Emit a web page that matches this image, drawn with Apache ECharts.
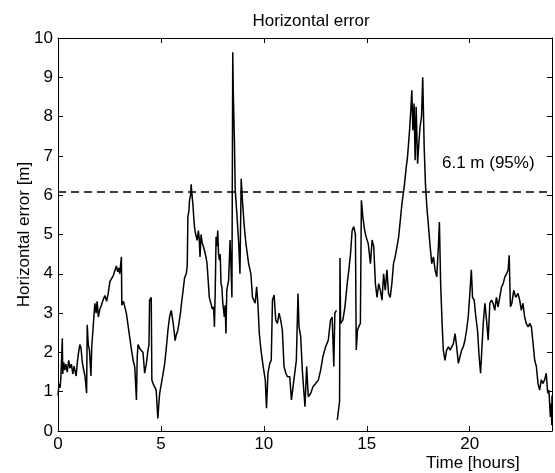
<!DOCTYPE html>
<html>
<head>
<meta charset="utf-8">
<script src="https://cdn.jsdelivr.net/npm/echarts@6/dist/echarts.min.js"></script>
<style>
  html, body { margin: 0; padding: 0; background: #fff; }
  #chart { width: 555px; height: 473px; }
</style>
</head>
<body>
<div id="chart"></div>
<script>
// time of day in hours
const hours = [
  0.00, 0.02, 0.06, 0.10, 0.14, 0.18, 0.21, 0.23, 0.28, 0.33, 0.38, 0.45, 0.52, 0.58, 0.65, 0.72, 0.78, 0.82, 0.88, 0.94,
  1.00, 1.06, 1.12, 1.18, 1.23, 1.31, 1.39, 1.42, 1.47, 1.53, 1.60, 1.64, 1.71, 1.79, 1.85, 1.90, 1.96,
  2.03, 2.11, 2.20, 2.28, 2.36, 2.44, 2.52, 2.60, 2.68, 2.76, 2.84, 2.90, 2.96,
  3.00, 3.08, 3.10, 3.13, 3.18, 3.24, 3.32, 3.40, 3.48, 3.56, 3.65, 3.73, 3.81, 3.85, 3.89, 3.97,
  4.05, 4.13, 4.21, 4.29, 4.37, 4.42, 4.45, 4.53, 4.56, 4.62, 4.69, 4.77, 4.85, 4.90, 4.94,
  5.02, 5.10, 5.18, 5.26, 5.34, 5.42, 5.50, 5.58, 5.64, 5.69, 5.75, 5.82, 5.88, 5.95,
  6.00, 6.06, 6.15, 6.23, 6.28, 6.31, 6.36, 6.39, 6.44, 6.47, 6.51, 6.55, 6.60, 6.63, 6.67, 6.71, 6.76, 6.82, 6.86, 6.90, 6.95,
  7.00, 7.03, 7.09, 7.15, 7.20, 7.24, 7.30, 7.35, 7.40, 7.44, 7.50, 7.56, 7.60, 7.64, 7.68, 7.72, 7.76, 7.80, 7.84, 7.88, 7.92, 7.96,
  8.00, 8.04, 8.08, 8.12, 8.16, 8.20, 8.29, 8.36, 8.40, 8.45, 8.49, 8.52, 8.57, 8.61, 8.68, 8.78, 8.84, 8.90, 8.97,
  9.05, 9.13, 9.26, 9.37, 9.45, 9.58, 9.65, 9.71, 9.78, 9.86, 9.97,
  10.07, 10.13, 10.20, 10.29, 10.36, 10.42, 10.50, 10.58, 10.66, 10.74, 10.82, 10.90, 10.98,
  11.07, 11.15, 11.26, 11.34, 11.42, 11.52, 11.58, 11.66, 11.71, 11.79, 11.87, 11.95,
  12.00, 12.08, 12.16, 12.28, 12.39, 12.52, 12.65, 12.76, 12.87,
  13.00, 13.13, 13.24, 13.32, 13.40, 13.45, 13.53, 13.55, 13.57, 13.62, 13.68, 13.70, 13.73, 13.84, 13.94,
  14.05, 14.13, 14.21, 14.29, 14.37, 14.45, 14.49, 14.55, 14.61, 14.69, 14.74, 14.81, 14.90, 14.97,
  15.07, 15.18, 15.26, 15.34, 15.42, 15.50, 15.58, 15.66, 15.74, 15.82, 15.90, 15.98,
  16.06, 16.14, 16.22, 16.30, 16.38, 16.47, 16.55, 16.63, 16.71, 16.82, 16.92, 16.98,
  17.08, 17.14, 17.19, 17.24, 17.30, 17.35, 17.40, 17.47, 17.53, 17.59, 17.66, 17.72, 17.79, 17.85, 17.92,
  18.00, 18.08, 18.16, 18.24, 18.32, 18.40, 18.48, 18.53, 18.59, 18.66, 18.72, 18.80, 18.88, 18.97,
  19.05, 19.13, 19.21, 19.29, 19.37, 19.45, 19.53, 19.61, 19.69, 19.77, 19.85, 19.93,
  20.01, 20.08, 20.14, 20.22, 20.30, 20.38, 20.46, 20.53, 20.59, 20.66, 20.74, 20.82, 20.90, 20.98,
  21.06, 21.14, 21.22, 21.30, 21.38, 21.46, 21.55, 21.63, 21.71, 21.79, 21.87, 21.92, 21.98,
  22.05, 22.14, 22.24, 22.35, 22.43, 22.51, 22.59, 22.67, 22.75, 22.84, 22.92,
  23.00, 23.08, 23.16, 23.24, 23.32, 23.40, 23.48, 23.56, 23.64, 23.72, 23.79, 23.85, 23.92, 23.96, 23.99, 24.00
]

// horizontal error in metres (null = gap in the record)
const errors = [
  0.90, 1.04, 1.20, 1.10, 1.35, 1.30, 2.36, 1.45, 1.75, 1.55, 1.70, 1.50, 1.80, 1.60, 1.70, 1.45, 1.65, 1.60, 1.40, 1.75,
  2.00, 2.20, 2.10, 1.75, 1.60, 1.40, 0.96, 2.70, 2.20, 2.05, 1.40, 2.15, 2.10, 3.25, 3.00, 3.30, 2.90,
  3.10, 3.20, 3.35, 3.45, 3.30, 3.50, 3.80, 3.75, 3.95, 3.90, 4.20, 4.05, 4.15,
  4.00, 4.43, 3.20, 3.16, 3.30, 3.25, 3.00, 2.70, 2.40, 2.10, 1.80, 1.63, 0.79, 1.90, 2.20, 2.10,
  2.05, 2.00, 1.47, 1.70, 2.05, 2.20, 3.33, 3.40, 1.30, 1.20, 1.13, 1.04, 0.32, 0.70, 0.96,
  1.20, 1.45, 1.70, 2.10, 2.56, 2.90, 3.07, 2.80, 2.55, 2.30, 2.45, 2.56, 2.75, 3.00,
  3.25, 3.50, 3.90, 4.00, 4.20, 5.45, 5.60, 5.87, 6.00, 6.28, 6.00, 5.80, 5.40, 5.20, 5.05, 5.00, 4.85, 5.10, 4.90, 4.43, 5.00,
  4.80, 4.77, 4.65, 4.70, 4.40, 4.26, 3.80, 3.40, 3.30, 3.25, 3.10, 3.16, 2.65, 3.60, 4.94, 4.70, 5.10, 4.50, 4.35, 4.50, 3.75, 3.67,
  3.30, 3.10, 2.90, 3.20, 2.48, 3.58, 3.84, 4.86, 4.26, 3.40, 9.64, 8.50, 7.40, 6.13, 5.60, 4.77, 4.00, 6.42, 5.79,
  5.20, 4.77, 4.26, 4.00, 3.40, 3.25, 3.67, 3.25, 2.48, 2.06, 1.64,
  1.30, 0.58, 1.47, 1.72, 1.80, 3.33, 3.46, 2.82, 2.74, 3.00, 2.82, 2.57, 1.64,
  1.47, 1.38, 1.38, 0.79, 1.13, 1.55, 1.80, 3.50, 2.65, 2.40, 1.55, 0.96,
  0.62, 1.64, 0.87, 0.96, 1.13, 1.21, 1.30, 1.55, 1.89,
  2.14, 2.31, 2.82, 2.90, 1.64, 3.00, 3.07, null, 0.28, 0.50, 0.75, 4.40, 2.74, 2.82, 3.16,
  3.75, 4.10, 4.50, 5.10, 5.20, 5.00, 2.06, 2.57, 2.65, 2.74, 5.87, 5.45, 5.10, 4.94,
  4.77, 4.26, 4.86, 4.69, 3.75, 3.40, 3.75, 3.58, 3.33, 4.00, 3.58, 4.10,
  3.50, 3.40, 3.75, 4.26, 4.43, 4.69, 4.94, 5.36, 5.79, 6.21, 6.72, 6.97,
  7.65, 8.16, 8.67, 7.65, 8.33, 6.89, 8.25, 6.80, 7.31, 7.74, 7.99, 9.00, 7.23, 6.30, 5.70,
  5.20, 4.69, 4.26, 4.43, 4.10, 3.92, 4.69, 5.32, 3.75, 2.74, 2.06, 1.80, 2.06, 2.14,
  2.06, 2.14, 2.23, 2.48, 2.14, 1.72, 1.89, 2.06, 2.14, 2.31, 2.57, 2.90,
  3.50, 4.10, 3.40, 3.33, 2.90, 2.57, 1.89, 1.47, 2.06, 2.74, 3.25, 2.82, 2.31, 3.25,
  3.33, 3.25, 3.07, 3.40, 3.16, 3.40, 3.67, 3.75, 3.92, 4.00, 4.10, 4.47, 3.16,
  3.25, 3.58, 3.40, 3.50, 3.33, 3.07, 3.25, 2.90, 2.74, 2.65, 2.74,
  2.65, 2.23, 1.80, 1.64, 1.21, 1.04, 1.30, 1.21, 1.30, 1.47, 0.96, 1.04, 0.36, 0.70, 0.15, 0.90
]

const xTicks = [0, 5, 10, 15, 20]
const yTicks = [0, 1, 2, 3, 4, 5, 6, 7, 8, 9, 10]
const level95 = 6.1
const level95Label = '6.1 m (95%)'

const font = 'Liberation Sans, Arial, Helvetica, sans-serif'
const chart = echarts.init(document.getElementById('chart'), null, { renderer: 'canvas' })

const axisBase = {
  type: 'value',
  axisLine: { show: true, onZero: false, lineStyle: { color: '#000', width: 1 } },
  axisTick: { show: true, inside: true, length: 5, lineStyle: { color: '#000' } },
  splitLine: { show: false }
}

chart.setOption({
  animation: false,
  backgroundColor: '#fff',
  textStyle: { fontFamily: font },
  title: {
    text: 'Horizontal error',
    left: 306,
    top: 8,
    textAlign: 'center',
    textStyle: { fontFamily: font, fontSize: 17, fontWeight: 'normal', color: '#000' }
  },
  grid: { left: 58, right: 1, top: 38, bottom: 42 },
  xAxis: [
    Object.assign({}, axisBase, {
      position: 'bottom',
      min: 0,
      max: 24,
      interval: 5,
      axisLabel: {
        margin: 5,
        fontSize: 17,
        color: '#000',
        fontFamily: font,
        formatter: v => (xTicks.includes(v) ? String(v) : '')
      }
    }),
    Object.assign({}, axisBase, {
      position: 'top',
      min: 0,
      max: 24,
      interval: 5,
      axisLabel: { show: false }
    })
  ],
  yAxis: [
    Object.assign({}, axisBase, {
      position: 'left',
      min: 0,
      max: 10,
      interval: 1,
      name: 'Horizontal error [m]',
      nameLocation: 'middle',
      nameGap: 25,
      nameMoveOverlap: false,
      nameTextStyle: { fontSize: 17, color: '#000', fontFamily: font },
      axisLabel: {
        margin: 5,
        fontSize: 17,
        color: '#000',
        fontFamily: font,
        formatter: v => (yTicks.includes(v) ? String(v) : '')
      }
    }),
    Object.assign({}, axisBase, {
      position: 'right',
      min: 0,
      max: 10,
      interval: 1,
      axisLabel: { show: false }
    })
  ],
  graphic: [
    {
      type: 'text',
      left: 442,
      top: 155,
      style: { text: level95Label, fontSize: 17, fontFamily: font, fill: '#000' }
    },
    {
      type: 'text',
      left: 426,
      top: 455,
      style: { text: 'Time [hours]', fontSize: 17, fontFamily: font, fill: '#000' }
    }
  ],
  series: [
    {
      type: 'line',
      xAxisIndex: 0,
      yAxisIndex: 0,
      data: hours.map((h, i) => [h, errors[i]]),
      showSymbol: false,
      connectNulls: false,
      lineStyle: { color: '#000', width: 1.5 },
      markLine: {
        silent: true,
        symbol: 'none',
        label: { show: false },
        lineStyle: { color: '#000', width: 1.6, type: [8, 5] },
        data: [{ yAxis: level95 }]
      }
    }
  ]
})
</script>
</body>
</html>
